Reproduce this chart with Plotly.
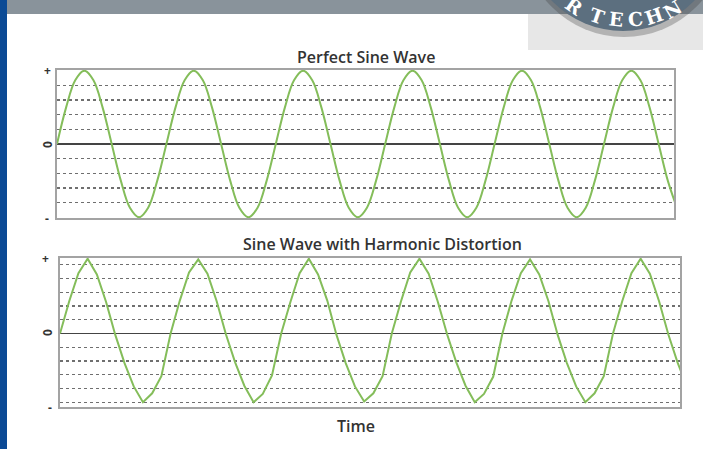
import plotly.graph_objects as go

W, H = 703, 449

# ---- data (12 samples per wave period) ----
top_title = "Perfect Sine Wave"
bottom_title = "Sine Wave with Harmonic Distortion"
x_title = "Time"
y_labels = ["-", "0", "+"]

perfect_wave = [
    0, .5, .87, 1, .87, .5, 0, -.5, -.87, -1, -.87, -.5,
    0, .5, .87, 1, .87, .5, 0, -.5, -.87, -1, -.87, -.5,
    0, .5, .87, 1, .87, .5, 0, -.5, -.87, -1, -.87, -.5,
    0, .5, .87, 1, .87, .5, 0, -.5, -.87, -1, -.87, -.5,
    0, .5, .87, 1, .87, .5, 0, -.5, -.87, -1, -.87, -.5,
    0, .5, .87, 1, .87, .5, 0, -.5, -.87,
]

distorted_wave = [
    0, .47, .88, 1.09, .86, .46, -.02, -.43, -.77, -1.0, -.87, -.62,
    0, .48, .89, 1.08, .87, .47, -.01, -.42, -.76, -1.0, -.88, -.61,
    0, .46, .88, 1.09, .86, .48, -.02, -.43, -.77, -.99, -.87, -.62,
    0, .47, .89, 1.09, .87, .46, -.01, -.42, -.76, -1.0, -.88, -.63,
    0, .48, .88, 1.08, .86, .47, -.02, -.43, -.77, -1.0, -.87, -.62,
    0, .47, .88, 1.09, .87, .47, -.01, -.42, -.76,
]

t_top = list(range(len(perfect_wave)))
t_bottom = list(range(len(distorted_wave)))


def px(x):
    return x / W


def py(y):
    return 1 - y / H


GREEN = "#84bd5a"
GRID = "#6f6f6f"
FRAME = "#a3a3a3"
TEXT = "#333333"
FONT = "Open Sans"

fig = go.Figure()
fig.add_trace(go.Scatter(x=t_top, y=perfect_wave, mode="lines",
                         line=dict(color=GREEN, width=2, shape="spline", smoothing=1),
                         xaxis="x", yaxis="y", hoverinfo="skip", showlegend=False))
fig.add_trace(go.Scatter(x=t_bottom, y=distorted_wave, mode="lines",
                         line=dict(color=GREEN, width=2),
                         xaxis="x2", yaxis="y2", hoverinfo="skip", showlegend=False))

xcommon = dict(showgrid=False, zeroline=False, showticklabels=False, ticks="",
               showline=True, mirror=True, linecolor=FRAME, linewidth=2)
ycommon = dict(showgrid=True, gridcolor=GRID, gridwidth=1.2, griddash="dot",
               tick0=0, dtick=0.2, zeroline=True, zerolinecolor="#444444",
               zerolinewidth=1.3, showticklabels=False, ticks="",
               showline=True, mirror=True, linecolor=FRAME, linewidth=2)

fig.update_layout(
    width=W, height=H,
    margin=dict(l=0, r=0, t=0, b=0),
    paper_bgcolor="white", plot_bgcolor="white",
    xaxis=dict(domain=[px(57), px(674)], range=[0, 67.68], anchor="y", **xcommon),
    yaxis=dict(domain=[py(218), py(70)], range=[-1.01, 1.01], anchor="x", **ycommon),
    xaxis2=dict(domain=[px(60), px(680)], range=[0, 67.27], anchor="y2", **xcommon),
    yaxis2=dict(domain=[py(407), py(258)], range=[-1.07, 1.1], anchor="x2", **ycommon),
)

shapes = []
# top grey bar
shapes.append(dict(type="rect", xref="paper", yref="paper", x0=0, x1=1, y0=py(14), y1=1,
                   fillcolor="#89939b", line=dict(width=0), layer="below"))
# light grey box behind logo
shapes.append(dict(type="rect", xref="paper", yref="paper", x0=px(528), x1=1, y0=py(50), y1=py(14),
                   fillcolor="#e7e7e7", line=dict(width=0), layer="below"))
# left blue strip
shapes.append(dict(type="rect", xref="paper", yref="paper", x0=0, x1=px(7), y0=0, y1=1,
                   fillcolor="#0b4a95", line=dict(width=0), layer="above"))
# logo shadow
cx, cy, r = 623, -68, 99
shapes.append(dict(type="circle", xref="paper", yref="paper",
                   x0=px(cx - r - 2), x1=px(cx + r + 4), y0=py(cy + r + 6), y1=py(cy - r),
                   fillcolor="rgba(60,60,60,0.30)", line=dict(width=0), layer="above"))
# logo disc
shapes.append(dict(type="circle", xref="paper", yref="paper",
                   x0=px(cx - r), x1=px(cx + r), y0=py(cy + r), y1=py(cy - r),
                   fillcolor="#5c6f7f", line=dict(width=0), layer="above"))


def label(text, x, y, size, angle=0, family=FONT, color=TEXT, weight=None):
    f = dict(family=family, size=size, color=color)
    if weight:
        f["weight"] = weight
    return dict(text=text, x=px(x), y=py(y), xref="paper", yref="paper",
                xanchor="center", yanchor="middle", showarrow=False,
                textangle=angle, font=f)


annotations = []
# logo letters along the arc
for ch, x, y, ang in [("R", 574, 6, 35), ("T", 597, 16, 19), ("E", 616, 19, 6),
                      ("C", 635, 19, -6), ("H", 654, 16, -19), ("N", 672, 10, -31)]:
    annotations.append(label("<b>" + ch + "</b>", x, y, 19, ang, "DejaVu Serif", "white"))

# titles
annotations.append(label(top_title, 366, 57, 16, weight=600))
annotations.append(label(bottom_title, 382, 244, 16, weight=600))
annotations.append(label(x_title, 356, 426, 16, weight=600))

# y labels (-, 0, +)
for (xl, yl, xtxt) in [((47, 218), (47, 145), (47, 70)), ((50, 407), (47, 333), (45, 258))]:
    for lab, (x, y) in zip(y_labels, [xl, yl, xtxt]):
        annotations.append(label("<b>" + lab + "</b>", x, y, 12, -90 if lab == "0" else 0))

fig.update_layout(shapes=shapes, annotations=annotations)

fig.write_html("out.html", config={"displayModeBar": False, "staticPlot": True},
               post_script="document.body.style.margin='0';")
